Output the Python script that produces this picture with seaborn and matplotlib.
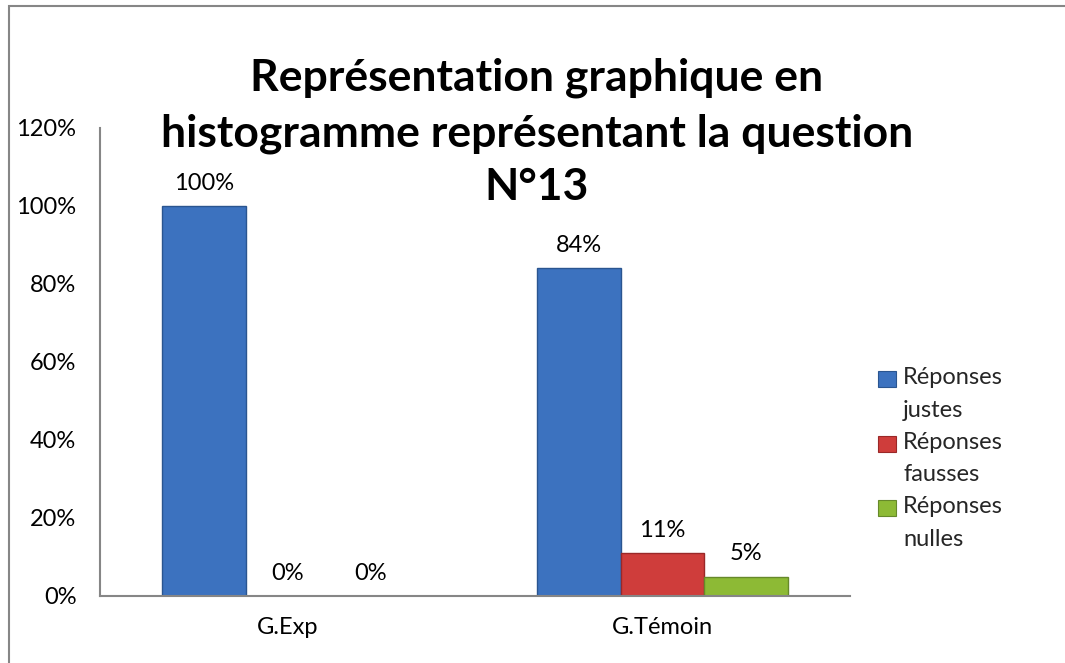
import matplotlib
matplotlib.use("Agg")
import matplotlib.pyplot as plt
import matplotlib.patches as mpatches
from matplotlib.legend_handler import HandlerBase
from matplotlib.ticker import FuncFormatter
import pandas as pd
import seaborn as sns

groups = ["G.Exp", "G.Témoin"]
series = ["Réponses\njustes", "Réponses\nfausses", "Réponses\nnulles"]
justes = [1.00, 0.84]
fausses = [0.00, 0.11]
nulles = [0.00, 0.05]
yticks = [0, 0.2, 0.4, 0.6, 0.8, 1.0, 1.2]
title_lines = ["Représentation graphique en",
               "histogramme représentant la question",
               "N°13"]

colors = ["#3C72BF", "#CF3D3B", "#8DBA35"]
edges = ["#2A5590", "#9A2828", "#66892A"]

rows = []
for s, vals in zip(series, [justes, fausses, nulles]):
    for g, v in zip(groups, vals):
        rows.append({"groupe": g, "serie": s, "valeur": v})
df = pd.DataFrame(rows)

sns.set_theme(style="white")
plt.rcParams["font.family"] = ["Lato", "DejaVu Sans"]

FS = 17
LEG_LS = 1.68
shift_pt = 10.8  # raise the legend key to the first label line


class TopRect(HandlerBase):
    def create_artists(self, legend, orig_handle, xdescent, ydescent,
                       width, height, fontsize, trans):
        r = mpatches.Rectangle((-xdescent, -ydescent + shift_pt), width, height,
                               facecolor=orig_handle.get_facecolor(),
                               edgecolor=orig_handle.get_edgecolor(),
                               linewidth=0.8, transform=trans)
        return [r]


fig = plt.figure(figsize=(10.65, 6.63), dpi=100)
ax = fig.add_axes([100 / 1065, 1 - 596 / 663, 750 / 1065, 468 / 663])

sns.barplot(data=df, x="groupe", y="valeur", hue="serie", order=groups,
            hue_order=series, palette=colors, width=0.667, gap=0,
            saturation=1, ax=ax, legend=True)

for cont, ec in zip(ax.containers, edges):
    for p in cont:
        p.set_edgecolor(ec)
        p.set_linewidth(1.0)
    ax.bar_label(cont, labels=[f"{v * 100:.0f}%" for v in cont.datavalues],
                 padding=9, fontsize=FS, color="black")

ax.set_ylim(0, 1.2)
ax.set_xlim(-0.5, 1.5)
ax.set_yticks(yticks)
ax.yaxis.set_major_formatter(FuncFormatter(lambda v, _: f"{v * 100:.0f}%"))
ax.tick_params(axis="y", labelsize=FS, length=0, pad=17, labelcolor="black")
ax.tick_params(axis="x", labelsize=FS, length=0, pad=15, labelcolor="black")
ax.set_xlabel("")
ax.set_ylabel("")
for side in ["top", "right"]:
    ax.spines[side].set_visible(False)
for side in ["left", "bottom"]:
    ax.spines[side].set_color("#868686")
    ax.spines[side].set_linewidth(1.5)
ax.set_facecolor("white")

handles, labels = ax.get_legend_handles_labels()
for h, ec in zip(handles, edges):
    h.set_edgecolor(ec)
leg = ax.legend(handles, labels, loc="upper left",
                bbox_to_anchor=(878 / 1065, 1 - 367 / 663),
                bbox_transform=fig.transFigure, frameon=False, fontsize=FS,
                handlelength=0.76, handleheight=0.66, handletextpad=0.3,
                labelspacing=0.47, borderpad=0, borderaxespad=0,
                handler_map={h: TopRect() for h in handles})
for t in leg.get_texts():
    t.set_linespacing(LEG_LS)

for line, yb in zip(title_lines, [91, 147, 200]):
    fig.text(537 / 1065, 1 - yb / 663, line, ha="center", va="baseline",
             fontsize=32, fontweight="bold", color="black")

frame = mpatches.Rectangle((9 / 1065, -0.2), 1.2, 1.2 - 6 / 663,
                           transform=fig.transFigure, fill=False,
                           edgecolor="#868686", linewidth=1.5, clip_on=False)
fig.patches.append(frame)

fig.savefig("out.png", dpi=100, facecolor="white")
